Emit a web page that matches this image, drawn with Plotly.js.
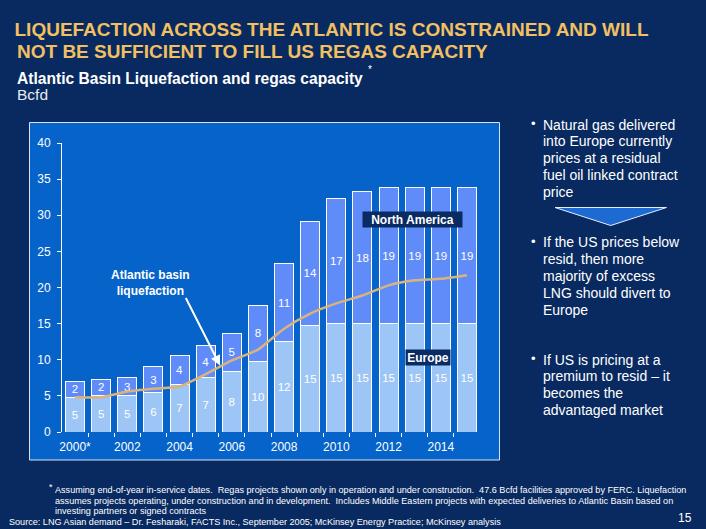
<!DOCTYPE html>
<html>
<head>
<meta charset="utf-8">
<script src="https://cdn.plot.ly/plotly-3.0.1.min.js"></script>
<style>html,body{margin:0;padding:0;background:#082A60;}#chart{width:706px;height:529px;}</style>
</head>
<body>
<div id="chart"></div>
<script>
// ---- data ----
const years = [2000,2001,2002,2003,2004,2005,2006,2007,2008,2009,2010,2011,2012,2013,2014,2015];
const tickYears = [2000,2002,2004,2006,2008,2010,2012,2014];
const tickLabels = ['2000*','2002','2004','2006','2008','2010','2012','2014'];
const europe = [4.8,5.1,5.0,5.5,6.6,7.5,8.4,9.8,12.5,14.8,15.0,15.0,15.0,15.0,15.0,15.0];
const northAmerica = [2.2,2.2,2.5,3.5,4.0,4.5,5.3,7.7,10.8,14.4,17.3,18.3,18.8,18.8,18.8,18.8];
const europeLabels = ['5','5','5','6','7','7','8','10','12','15','15','15','15','15','15','15'];
const northAmericaLabels = ['2','2','3','3','4','4','5','8','11','14','17','18','19','19','19','19'];
const liquefaction = [4.8,4.8,5.6,6.0,6.3,8.0,9.9,11.4,14.3,16.4,17.8,18.9,20.3,21.0,21.2,21.7];
const yTicks = [0,5,10,15,20,25,30,35,40];

const titleLines = ['LIQUEFACTION ACROSS THE ATLANTIC IS CONSTRAINED AND WILL', 'NOT BE SUFFICIENT TO FILL US REGAS CAPACITY'];
const subtitleText = 'Atlantic Basin Liquefaction and regas capacity';
const subtitleMark = '*';
const unitText = 'Bcfd';
const bullets = [
  ['Natural gas delivered','into Europe currently','prices at a residual','fuel oil linked contract','price'],
  ['If the US prices below','resid, then more','majority of excess','LNG should divert to','Europe'],
  ['If US is pricing at a','premium to resid \u2013 it','becomes the','advantaged market']
];
const footnotes = [
  'Assuming end-of-year in-service dates.  Regas projects shown only in operation and under construction.  47.6 Bcfd facilities approved by FERC. Liquefaction',
  'assumes projects operating, under construction and in development.  Includes Middle Eastern projects with expected deliveries to Atlantic Basin based on',
  'investing partners or signed contracts'
];
const sourceText = 'Source: LNG Asian demand \u2013 Dr. Fesharaki, FACTS Inc., September 2005; McKinsey Energy Practice; McKinsey analysis';
const pageNumber = '15';

// ---- layout helpers (pixel -> paper) ----
const W = 706, H = 529, ML = 62, MR = 226, MT = 143, MB = 97;
const PW = W - ML - MR, PH = H - MT - MB;
const px = x => (x - ML) / PW;
const py = y => (H - MB - y) / PH;
const FONT = 'Liberation Sans, Arial, sans-serif';

const traces = [
  {type:'bar', x:years, y:europe, text:europeLabels, name:'Europe',
   marker:{color:'#9DC5F5', line:{color:'#FFFFFF', width:1}},
   textposition:'inside', insidetextanchor:'middle', textangle:0, constraintext:'none',
   textfont:{family:FONT, size:11.5, color:'#FFFFFF'}, hoverinfo:'skip'},
  {type:'bar', x:years, y:northAmerica, text:northAmericaLabels, name:'North America',
   marker:{color:'#608CFA', line:{color:'#FFFFFF', width:1}},
   textposition:'inside', insidetextanchor:'middle', textangle:0, constraintext:'none',
   textfont:{family:FONT, size:11.5, color:'#FFFFFF'}, hoverinfo:'skip'},
  {type:'scatter', mode:'lines', x:years, y:liquefaction, name:'Atlantic basin liquefaction',
   line:{color:'#D8B47C', width:2.5, shape:'spline', smoothing:0.6}, hoverinfo:'skip'}
];

const annotations = [];
function addText(text, x, y, size, color, opts) {
  annotations.push(Object.assign({xref:'paper', yref:'paper', x:px(x), y:py(y), text:text,
    showarrow:false, xanchor:'left', yanchor:'middle', align:'left',
    font:{family:FONT, size:size, color:color}}, opts || {}));
}
addText('<b>' + titleLines[1] + '</b>', 14.5, 51.5, 19, '#F2C062');
addText('<b>' + subtitleText + '</b>', 15, 78.5, 15.6, '#FFFFFF');
addText(subtitleMark, 366, 69, 10, '#FFFFFF');
addText(unitText, 15, 94, 15.5, '#E6EAF2');

// bullets
const bulletStarts = [124.5, 242, 359.5];
const bulletStep = 16.9;
bullets.forEach((lines, bi) => {
  addText('\u2022', 529, bulletStarts[bi] - 1, 13, '#FFFFFF');
  lines.forEach((ln, li) => addText(ln, 540.5, bulletStarts[bi] + li * bulletStep, 14, '#FFFFFF'));
});

// footnotes
addText('*', 47, 487, 9, '#FFFFFF');
footnotes.forEach((ln, i) => addText(ln, 53, 489.5 + i * 11, 9.1, '#FFFFFF'));
addText(sourceText, 7, 522, 9.1, '#FFFFFF');
addText(pageNumber, 676, 518, 12, '#FFFFFF');

// chart labels
annotations.push({xref:'x', yref:'y', x:2002.9, y:20.6, text:'<b>Atlantic basin<br>liquefaction</b>',
  showarrow:false, font:{family:FONT, size:12, color:'#FFFFFF'}, align:'center'});
annotations.push({xref:'x', yref:'y', x:2005.55, y:9.2, text:'', showarrow:true,
  arrowhead:2, arrowsize:1, arrowwidth:2, arrowcolor:'#FFFFFF', ax:-35, ay:-69, standoff:0});
annotations.push({xref:'x', yref:'y', x:2012.92, y:29.45, text:'<b>North America</b>',
  showarrow:false, bgcolor:'#0A2A62', width:97, height:13, borderpad:1,
  font:{family:FONT, size:12, color:'#FFFFFF'}});
annotations.push({xref:'x', yref:'y', x:2013.5, y:10.34, text:'<b>Europe</b>',
  showarrow:false, bgcolor:'#0A2A62', width:42, height:13, borderpad:1,
  font:{family:FONT, size:12, color:'#FFFFFF'}});

const shapes = [
  {type:'rect', xref:'paper', yref:'paper', layer:'below',
   x0:px(29.5), x1:px(499.5), y0:py(460), y1:py(122.5),
   fillcolor:'#0563C9', line:{color:'#D8E4F5', width:1}},
  {type:'path', xref:'paper', yref:'paper',
   path:'M ' + px(555) + ',' + py(207.5) + ' L ' + px(666.5) + ',' + py(207.5) + ' L ' + px(610.7) + ',' + py(225.5) + ' Z',
   fillcolor:'#1C6AD2', line:{color:'#E6EEFA', width:1}}
];

const minorTicks = years.slice(0, -1).map(y => y + 0.5);

const layout = {
  width:W, height:H,
  margin:{l:ML, r:MR, t:MT, b:MB, pad:0},
  paper_bgcolor:'#082A60', plot_bgcolor:'rgba(0,0,0,0)',
  showlegend:false, barmode:'stack', bargap:0.27,
  title:{text:'<b>' + titleLines[0] + '</b>', xref:'container', yref:'container',
    x:14.5/W, xanchor:'left', y:1 - 29/H, yanchor:'middle',
    font:{family:FONT, size:19, color:'#F2C062'}},
  xaxis:{range:[1999.5, 2015.5], tickmode:'array', tickvals:tickYears, ticktext:tickLabels,
    ticks:'', showline:false, showgrid:false, zeroline:false, fixedrange:true,
    ticklabelstandoff:6,
    tickfont:{family:FONT, size:12, color:'#FFFFFF'},
    minor:{tickmode:'array', tickvals:minorTicks, ticks:'outside', ticklen:4, tickwidth:1, tickcolor:'#FFFFFF', showgrid:false}},
  yaxis:{range:[0,40], tickmode:'array', tickvals:yTicks, ticks:'outside', ticklen:4, tickwidth:1,
    tickcolor:'#FFFFFF', showline:true, linecolor:'#FFFFFF', linewidth:1, showgrid:false, zeroline:false,
    ticklabelstandoff:4, fixedrange:true,
    tickfont:{family:FONT, size:12, color:'#FFFFFF'}},
  annotations:annotations,
  shapes:shapes
};

Plotly.newPlot('chart', traces, layout, {staticPlot:true, displayModeBar:false});
</script>
</body>
</html>
